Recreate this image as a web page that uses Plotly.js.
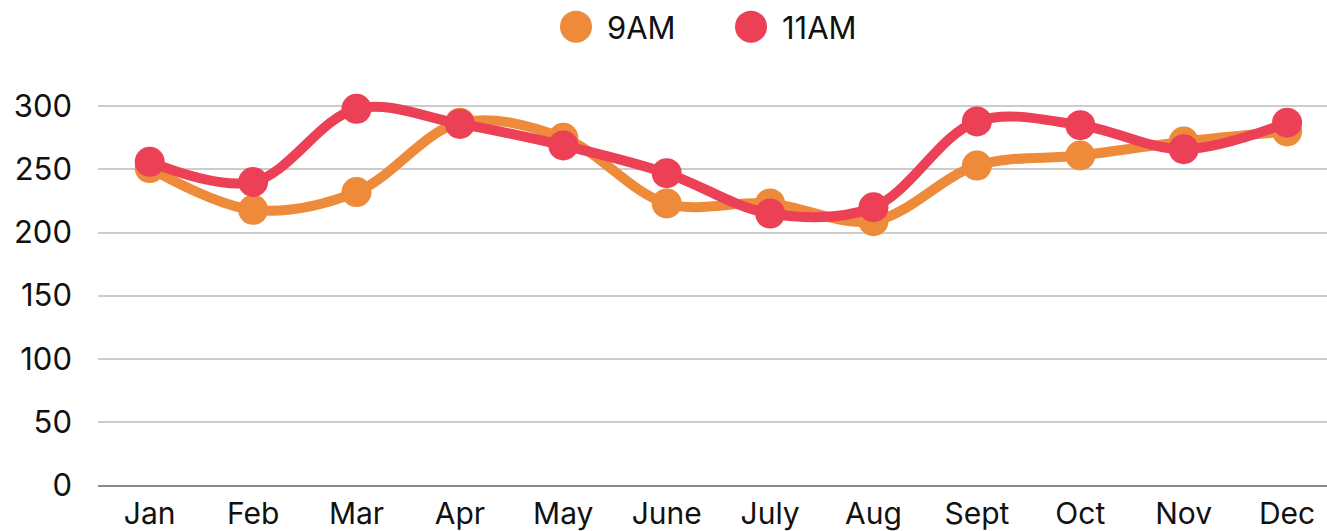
<!DOCTYPE html>
<html><head><meta charset="utf-8">
<script src="https://cdn.plot.ly/plotly-3.0.1.min.js"></script>
<style>html,body{margin:0;padding:0;background:#fff}#chart{width:1327px;height:531px}</style>
</head><body><div id="chart"></div>
<script>
const months = ["Jan","Feb","Mar","Apr","May","June","July","Aug","Sept","Oct","Nov","Dec"];
const am9 = [251, 218, 232, 287, 275, 223, 223, 209, 253, 261, 272, 280];
const am11 = [256, 240, 298, 286, 269, 247, 215, 220, 288, 285, 266, 287];
const seriesNames = ["9AM", "11AM"];
const colors = ["#ED8B3B", "#EC4057"];
const yTicks = [0, 50, 100, 150, 200, 250, 300];

const FONT = "Inter, 'Noto Sans', sans-serif";
function lineTrace(vals, i){
  return {x: months, y: vals, type: "scatter", mode: "lines+markers", name: seriesNames[i],
    line: {color: colors[i], width: 10, shape: "spline", smoothing: 1},
    marker: {color: colors[i], size: 30}, showlegend: false, hoverinfo: "x+y"};
}
function legendTrace(i){
  return {x: [null], y: [null], type: "scatter", mode: "markers", name: seriesNames[i],
    marker: {color: colors[i], size: 16}, showlegend: true};
}
const data = [lineTrace(am9, 0), lineTrace(am11, 1), legendTrace(0), legendTrace(1)];
const layout = {
  width: 1327, height: 531,
  margin: {l: 98, r: 0, t: 81, b: 46},
  paper_bgcolor: "#fff", plot_bgcolor: "#fff",
  font: {family: FONT, color: "#111", size: 30},
  showlegend: true,
  legend: {orientation: "h", xref: "container", x: 556/1327, xanchor: "left",
    yref: "container", y: 1, yanchor: "top",
    font: {size: 31, family: FONT, color: "#111"}, itemwidth: 30, tracegroupgap: 0,
    entrywidth: 130, entrywidthmode: "pixels"},
  xaxis: {type: "category", range: [-0.5, 11.386], showgrid: false, zeroline: false,
    showline: true, linecolor: "#8a8a8a", linewidth: 2,
    ticks: "", ticklabelstandoff: 1, tickfont: {size: 30, family: FONT, color: "#111"}, fixedrange: true},
  yaxis: {range: [0, 320], tickvals: yTicks, ticktext: yTicks.map(String),
    showgrid: true, gridcolor: "#cccccc", gridwidth: 2, zeroline: false, showline: false,
    ticks: "", ticklabelstandoff: 25, tickfont: {size: 31, family: FONT, color: "#111"}, fixedrange: true}
};
Plotly.newPlot("chart", data, layout, {displayModeBar: false, staticPlot: true}).then(function(gd){
  document.querySelectorAll(".legendpoints path.scatterpts").forEach(function(p){
    p.setAttribute("transform", "translate(20,0) scale(2)");
  });
  document.querySelectorAll(".legend text.legendtext").forEach(function(t){
    t.setAttribute("x", "51");
  });
});
</script>
</body></html>
